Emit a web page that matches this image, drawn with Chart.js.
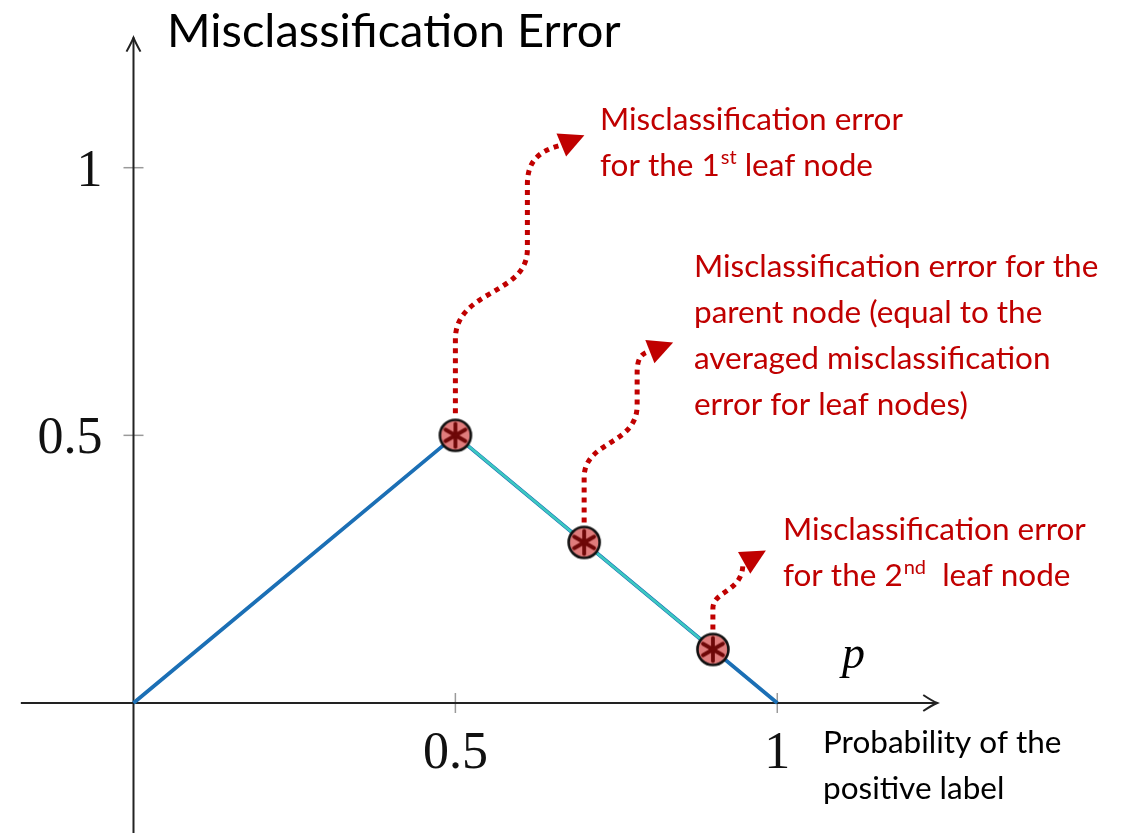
<!DOCTYPE html>
<html>
<head>
<meta charset="utf-8">
<script src="https://cdn.jsdelivr.net/npm/chart.js@4.4.1/dist/chart.umd.min.js"></script>
<style>
html,body{margin:0;padding:0;background:#fff;}
#wrap{width:1132px;height:833px;}
</style>
</head>
<body>
<div id="wrap"><canvas id="c" width="1132" height="833"></canvas></div>
<script>
// ---- data ----
const pValues = [0, 0.5, 1];
const errorValues = [0, 0.5, 0];
const nodeP = [0.5, 0.7, 0.9];
const nodeError = [0.5, 0.3, 0.1];
const xTickValues = [0.5, 1];
const xTickLabels = ['0.5', '1'];
const yTickValues = [0.5, 1];
const yTickLabels = ['0.5', '1'];

const TITLE = 'Misclassification Error';
const XLABEL = ['Probability of the', 'positive label'];
const AXIS_SYMBOL = 'p';

// ---- styles ----
const BLUE = '#1b6fb5';
const CYAN = '#3cc9c1';
const RED = '#c00000';
const SANS = 'Lato, "Open Sans", sans-serif';
const SERIF = '"Liberation Serif", "DejaVu Serif", serif';

// marker image: filled circle with an asterisk
function makeMarker() {
  const c = document.createElement('canvas');
  c.width = 40; c.height = 40;
  const g = c.getContext('2d');
  g.beginPath();
  g.arc(20, 20, 15.5, 0, Math.PI * 2);
  g.fillStyle = '#e07c7c';
  g.fill();
  g.lineWidth = 2.6;
  g.strokeStyle = '#111';
  g.stroke();
  g.strokeStyle = '#6e0808';
  g.lineWidth = 3.8;
  g.lineCap = 'round';
  for (let k = 0; k < 6; k++) {
    const a = Math.PI / 2 + k * Math.PI / 3;
    g.beginPath();
    g.moveTo(20, 20);
    g.lineTo(20 + 11.5 * Math.cos(a), 20 - 11.5 * Math.sin(a));
    g.stroke();
  }
  return c;
}
const marker = makeMarker();

// annotation arrows: pixel offsets relative to the node they start from
const arrows = [
  { node: 0, path: [['M', 0, -22], ['L', 0, -96], ['C', 0, -146, 72, -140, 72, -186], ['L', 72, -251], ['C', 72, -273, 82, -284, 105, -290]], tip: [129, -300] },
  { node: 1, path: [['M', 0, -20], ['L', 0, -65], ['C', 0, -102, 53, -97, 53, -137], ['L', 53, -170], ['C', 53, -184, 57, -189, 66, -191]], tip: [89, -200] },
  { node: 2, path: [['M', 0, -20], ['L', 0, -41], ['C', 0, -59, 30, -57, 30, -86]], tip: [53, -99] }
];

// text blocks anchored in data coordinates
const notes = [
  { x: 0.7247, y: 1.0704, lines: [[['Misclassification error']], [['for the 1'], ['st', 'sup'], [' leaf node']]] },
  { x: 0.8706, y: 0.7958, lines: [[['Misclassification error for the']], [['parent node (equal to the']], [['averaged misclassification']], [['error for leaf nodes)']]] },
  { x: 1.0088, y: 0.3045, lines: [[['Misclassification error']], [['for the 2'], ['nd', 'sup'], ['  leaf node']]] }
];

function drawRich(ctx, segs, x, y, size) {
  let cx = x;
  for (const s of segs) {
    if (s[1] === 'sup') {
      ctx.font = `${Math.round(size * 0.62)}px ${SANS}`;
      ctx.fillText(s[0], cx + 1, y - size * 0.38);
      cx += ctx.measureText(s[0]).width + 1;
    } else {
      ctx.font = `${size}px ${SANS}`;
      ctx.fillText(s[0], cx, y);
      cx += ctx.measureText(s[0]).width;
    }
  }
}

const decor = {
  id: 'decor',
  beforeDatasetsDraw(chart) {
    const ctx = chart.ctx;
    const xs = chart.scales.x, ys = chart.scales.y;
    const X = v => xs.getPixelForValue(v), Y = v => ys.getPixelForValue(v);
    const ox = X(0), oy = Y(0);
    ctx.save();
    // tick marks
    ctx.strokeStyle = '#9a9a9a';
    ctx.lineWidth = 1.5;
    xTickValues.forEach(v => { ctx.beginPath(); ctx.moveTo(X(v), oy - 10); ctx.lineTo(X(v), oy + 10); ctx.stroke(); });
    yTickValues.forEach(v => { ctx.beginPath(); ctx.moveTo(ox - 10, Y(v)); ctx.lineTo(ox + 10, Y(v)); ctx.stroke(); });
    // axes
    ctx.strokeStyle = '#222';
    ctx.lineWidth = 2;
    const xEnd = X(1.2485), xStart = X(-0.175);
    const yEnd = Y(1.243);
    ctx.beginPath(); ctx.moveTo(xStart, oy); ctx.lineTo(xEnd, oy); ctx.stroke();
    ctx.beginPath(); ctx.moveTo(ox, chart.height); ctx.lineTo(ox, yEnd); ctx.stroke();
    // arrow heads (latex style)
    ctx.lineWidth = 2;
    ctx.beginPath();
    ctx.moveTo(xEnd - 14, oy - 8); ctx.quadraticCurveTo(xEnd - 5, oy - 2, xEnd, oy);
    ctx.quadraticCurveTo(xEnd - 5, oy + 2, xEnd - 14, oy + 8);
    ctx.stroke();
    ctx.beginPath();
    ctx.moveTo(ox - 7, yEnd + 14); ctx.quadraticCurveTo(ox - 2, yEnd + 5, ox, yEnd);
    ctx.quadraticCurveTo(ox + 2, yEnd + 5, ox + 7, yEnd + 14);
    ctx.stroke();
    // tick labels
    ctx.fillStyle = '#111';
    ctx.font = `52px ${SERIF}`;
    ctx.textBaseline = 'alphabetic';
    ctx.textAlign = 'center';
    xTickValues.forEach((v, i) => ctx.fillText(xTickLabels[i], X(v), oy + 65));
    ctx.textAlign = 'right';
    yTickValues.forEach((v, i) => ctx.fillText(yTickLabels[i], ox - 31, Y(v) + 18));
    // dotted arrows
    ctx.strokeStyle = RED;
    ctx.fillStyle = RED;
    ctx.lineWidth = 5;
    arrows.forEach(a => {
      const nx = X(nodeP[a.node]), ny = Y(nodeError[a.node]);
      ctx.setLineDash([5, 5]);
      ctx.beginPath();
      let last = null;
      a.path.forEach(p => {
        if (p[0] === 'M') ctx.moveTo(nx + p[1], ny + p[2]);
        else if (p[0] === 'L') ctx.lineTo(nx + p[1], ny + p[2]);
        else ctx.bezierCurveTo(nx + p[1], ny + p[2], nx + p[3], ny + p[4], nx + p[5], ny + p[6]);
        last = [p[p.length - 2], p[p.length - 1]];
      });
      ctx.stroke();
      ctx.setLineDash([]);
      const tx = nx + a.tip[0], ty = ny + a.tip[1];
      const bx = nx + last[0], by = ny + last[1];
      let dx = tx - bx, dy = ty - by;
      const L = Math.hypot(dx, dy); dx /= L; dy /= L;
      const len = 25, w = 12.5;
      const mx = tx - dx * len, my = ty - dy * len;
      ctx.beginPath();
      ctx.moveTo(tx, ty);
      ctx.lineTo(mx - dy * w, my + dx * w);
      ctx.lineTo(mx + dy * w, my - dx * w);
      ctx.closePath();
      ctx.fill();
    });
    ctx.restore();
  },
  afterDatasetsDraw(chart) {
    const ctx = chart.ctx;
    const xs = chart.scales.x, ys = chart.scales.y;
    const X = v => xs.getPixelForValue(v), Y = v => ys.getPixelForValue(v);
    ctx.save();
    ctx.textAlign = 'left';
    ctx.textBaseline = 'alphabetic';
    // title
    ctx.fillStyle = '#000';
    ctx.font = `47px ${SANS}`;
    ctx.fillText(TITLE, X(0.052), Y(1.2255));
    // x label
    ctx.font = `31.5px ${SANS}`;
    XLABEL.forEach((t, i) => ctx.fillText(t, X(1.071), Y(-0.0934) + i * 46));
    // p symbol
    ctx.font = `italic 46px ${SERIF}`;
    ctx.fillText(AXIS_SYMBOL, X(1.1005), Y(0.0654));
    // red notes
    ctx.fillStyle = RED;
    notes.forEach(n => {
      n.lines.forEach((segs, i) => drawRich(ctx, segs, X(n.x), Y(n.y) + i * 46, 31.5));
    });
    ctx.restore();
  }
};

new Chart(document.getElementById('c'), {
  type: 'scatter',
  data: {
    datasets: [
      {
        label: 'nodes',
        data: nodeP.map((x, i) => ({ x, y: nodeError[i] })),
        showLine: true,
        borderColor: CYAN,
        borderWidth: 2.6,
        pointStyle: marker,
        pointRadius: 16,
        order: 0
      },
      {
        label: 'error',
        data: pValues.map((x, i) => ({ x, y: errorValues[i] })),
        showLine: true,
        borderColor: BLUE,
        borderWidth: 3.8,
        pointRadius: 0,
        order: 1
      }
    ]
  },
  options: {
    responsive: false,
    animation: false,
    layout: { padding: 0, autoPadding: false },
    plugins: { legend: { display: false }, tooltip: { enabled: false } },
    scales: {
      x: { type: 'linear', min: -0.20736, max: 1.5510, display: false },
      y: { type: 'linear', min: -0.24286, max: 1.31328, display: false }
    }
  },
  plugins: [decor]
});
</script>
</body>
</html>
